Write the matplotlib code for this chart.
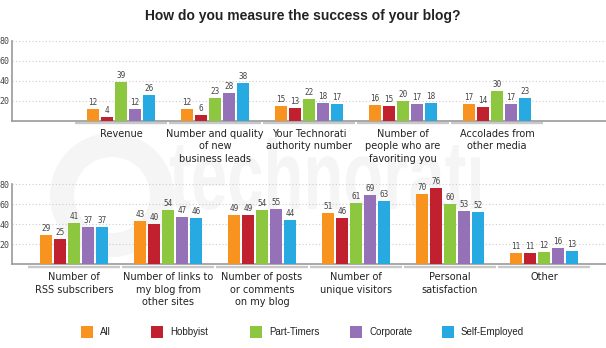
import matplotlib
matplotlib.use("Agg")
import matplotlib.pyplot as plt
import numpy as np
from matplotlib.textpath import TextPath
from matplotlib.patches import PathPatch, Wedge
from matplotlib.font_manager import FontProperties
import matplotlib.transforms as mtransforms

series = ["All", "Hobbyist", "Part-Timers", "Corporate", "Self-Employed"]
colors = ["#F7931E", "#C1202F", "#8DC63F", "#9572B8", "#27AAE1"]

top_cats = ["Revenue", "Number and quality\nof new\nbusiness leads",
            "Your Technorati\nauthority number", "Number of\npeople who are\nfavoriting you",
            "Accolades from\nother media"]
top_vals = [
    [12, 12, 15, 16, 17],   # All
    [4, 6, 13, 15, 14],     # Hobbyist
    [39, 23, 22, 20, 30],   # Part-Timers
    [12, 28, 18, 17, 17],   # Corporate
    [26, 38, 17, 18, 23],   # Self-Employed
]

bot_cats = ["Number of\nRSS subscribers", "Number of links to\nmy blog from\nother sites",
            "Number of posts\nor comments\non my blog", "Number of\nunique visitors",
            "Personal\nsatisfaction", "Other"]
bot_vals = [
    [29, 43, 49, 51, 70, 11],
    [25, 40, 49, 46, 76, 11],
    [41, 54, 54, 61, 60, 12],
    [37, 47, 55, 69, 53, 16],
    [37, 46, 44, 63, 52, 13],
]

W, H = 606, 348
fig = plt.figure(figsize=(W / 100, H / 100), dpi=100)

# faint watermark behind everything
fp = FontProperties(family="Liberation Sans", weight="bold")
tp = TextPath((0, 0), "technorati", size=100, prop=fp)
ext = tp.get_extents()
tr = mtransforms.Affine2D().translate(-ext.x0, -ext.y0).scale(310 / ext.width, 72 / ext.height) \
    .translate(170, H - 210)
fig.patches.append(PathPatch(tr.transform_path(tp), fc="#f5f5f5", ec="none",
                             transform=None, zorder=-5))
fig.patches.append(Wedge((112, H - 195), 62, 0, 360, width=24, fc="#f5f5f5", ec="none",
                         transform=None, zorder=-5))

fig.text(303 / W, 1 - 16 / H, "How do you measure the success of your blog?",
         ha="center", va="center", fontsize=10, fontweight="bold",
         family="Liberation Sans", color="#222222")

ax_top = fig.add_axes([12 / W, 1 - 120.7 / H, 594 / W, 80 / H])
ax_bot = fig.add_axes([12 / W, 1 - 264 / H, 594 / W, 80 / H])

step = 14 / 94
bw = 12.3 / 94


def draw(ax, cats, vals, x0):
    ax.patch.set_alpha(0)
    xs = np.arange(len(cats)) + x0
    for i, (vs, c) in enumerate(zip(vals, colors)):
        pos = xs + (i - 2) * step
        bars = ax.bar(pos, vs, width=bw, color=c, zorder=3)
        for b, v in zip(bars, vs):
            ax.annotate(str(v), (b.get_x() + b.get_width() / 2, v), xytext=(0, 1.5),
                        textcoords="offset points", ha="center", va="bottom",
                        fontsize=5.5, family="DejaVu Sans Mono", color="#444444")
    bt = mtransforms.blended_transform_factory(ax.transData, ax.transAxes)
    for x, lab in zip(xs, cats):
        ax.plot([x - 0.489, x + 0.489], [-0.033, -0.033], transform=bt, color="#c8c8c8",
                lw=1.7, solid_capstyle="butt", clip_on=False)
        ax.annotate(lab, (x, 0), xycoords=bt, xytext=(0, -6), textcoords="offset points",
                    ha="center", va="top", fontsize=7, color="#222222",
                    linespacing=1.3)
    ax.set_xlim(-0.66, 5.66)
    ax.set_ylim(0, 80)
    ax.set_yticks([20, 40, 60, 80])
    ax.set_xticks([])
    ax.tick_params(axis="y", length=0, pad=1.5, labelsize=6, labelcolor="#444444")
    for t in ax.get_yticklabels():
        t.set_family("DejaVu Sans Mono")
    ax.grid(axis="y", linestyle=(0, (1, 2)), color="#cccccc", lw=0.8, zorder=0)
    for s in ["top", "right"]:
        ax.spines[s].set_visible(False)
    for s in ["left", "bottom"]:
        ax.spines[s].set_color("#9a9a9a")
        ax.spines[s].set_linewidth(1.2)


draw(ax_top, top_cats, top_vals, 0.5)
draw(ax_bot, bot_cats, bot_vals, 0.0)

# legend
leg_x = [81, 151, 250, 350, 442]
for x, lab, c in zip(leg_x, series, colors):
    fig.patches.append(plt.Rectangle((x, H - 338), 12, 12, fc=c, ec="none", transform=None))
    fig.text((x + 19) / W, 1 - 332 / H, lab, ha="left", va="center", fontsize=7,
             family="Liberation Sans", color="#222222")

fig.savefig("out.png", dpi=100)
